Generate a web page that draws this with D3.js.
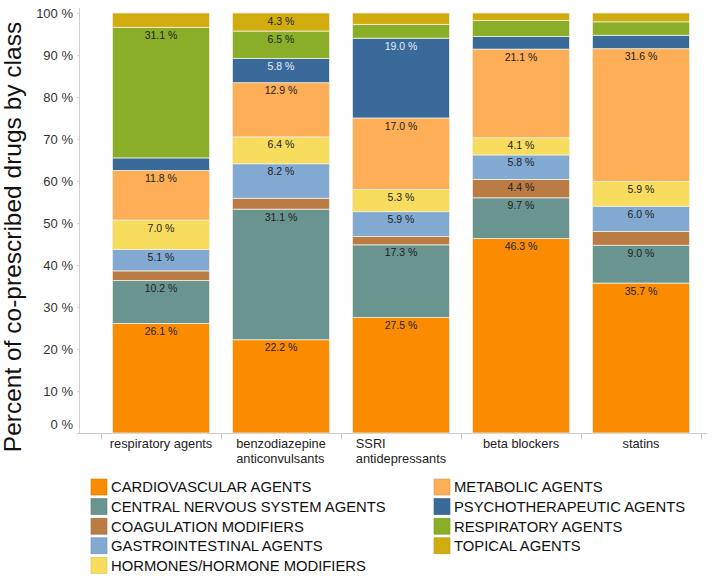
<!DOCTYPE html>
<html><head><meta charset="utf-8">
<script src="https://cdn.jsdelivr.net/npm/d3@7"></script>
<style>body{margin:0;background:#fff}svg{display:block;font-family:"Liberation Sans",Arial,sans-serif}</style>
</head><body><svg id="c" width="712" height="579"></svg>
<script>
const categories = ["respiratory agents", "benzodiazepine\nanticonvulsants", "SSRI\nantidepressants", "beta blockers", "statins"];
const classes = ["CARDIOVASCULAR AGENTS","CENTRAL NERVOUS SYSTEM AGENTS","COAGULATION MODIFIERS","GASTROINTESTINAL AGENTS","HORMONES/HORMONE MODIFIERS","METABOLIC AGENTS","PSYCHOTHERAPEUTIC AGENTS","RESPIRATORY AGENTS","TOPICAL AGENTS"];
const colors = ["#fb8b00","#699490","#ba7b45","#82a9d1","#f8dc5e","#fdae56","#3a6a99","#8aae27","#d1ac0f"];
// values per category, in class order
const respiratoryAgents = [26.1, 10.2, 2.3, 5.1, 7.0, 11.8, 3.0, 31.1, 3.4];
const benzodiazepines   = [22.2, 31.1, 2.6, 8.2, 6.4, 12.9, 5.8, 6.5, 4.3];
const ssri              = [27.5, 17.3, 2.0, 5.9, 5.3, 17.0, 19.0, 3.3, 2.7];
const betaBlockers      = [46.3, 9.7, 4.4, 5.8, 4.1, 21.1, 3.0, 3.8, 1.8];
const statins           = [35.7, 9.0, 3.3, 6.0, 5.9, 31.6, 3.2, 3.2, 2.1];
const yTicks = [0,10,20,30,40,50,60,70,80,90,100];
const yTitle = "Percent of co-prescribed drugs by class";

const seriesValues = [respiratoryAgents, benzodiazepines, ssri, betaBlockers, statins];
const table = categories.map((c,i)=>{const o={cat:c}; classes.forEach((k,j)=>o[k]=seriesValues[i][j]); return o;});
const stack = d3.stack().keys(classes)(table);

const svg = d3.select("#c");
const x = d3.scaleBand().domain(categories).range([101,701]).paddingInner(0.19).paddingOuter(0.095);
const y = d3.scaleLinear().domain([0,100]).range([433,13]);

// axis lines
svg.append("line").attr("x1",79.5).attr("x2",79.5).attr("y1",8).attr("y2",433).attr("stroke","#d0d0d0");
svg.append("line").attr("x1",79).attr("x2",707).attr("y1",433.5).attr("y2",433.5).attr("stroke","#c8c8c8");
const step = x.step();
const bounds = categories.map(c=>x(c)+x.bandwidth()/2-step/2).concat([x(categories[categories.length-1])+x.bandwidth()/2+step/2]);
svg.selectAll(".xt").data(bounds).join("line").attr("x1",d=>Math.round(d)+0.5).attr("x2",d=>Math.round(d)+0.5)
  .attr("y1",433).attr("y2",439).attr("stroke","#c8c8c8");

// y ticks
const yl = svg.append("g");
yl.selectAll("text").data(yTicks).join("text")
  .attr("x",73).attr("y",d=>y(d)+(d===0?-9:0)).attr("dy","0.35em")
  .attr("text-anchor","end").attr("font-size",13).attr("fill","#333")
  .text(d=>d+" %");
yl.selectAll("line").data(yTicks).join("line").attr("x1",77).attr("x2",80)
  .attr("y1",d=>Math.round(y(d))+0.5).attr("y2",d=>Math.round(y(d))+0.5).attr("stroke","#d0d0d0");

// bars
const g = svg.append("g");
stack.forEach((s,j)=>{
  g.selectAll(".b"+j).data(s).join("rect")
    .attr("x",d=>x(d.data.cat)).attr("width",x.bandwidth())
    .attr("y",d=>y(d[1])).attr("height",d=>y(d[0])-y(d[1]))
    .attr("fill",colors[j]).attr("stroke","#f2efe0").attr("stroke-width",0.8);
});
stack.forEach((s,j)=>{
  g.selectAll(".l"+j).data(s.filter(d=>d[1]-d[0]>=4)).join("text")
    .attr("x",d=>x(d.data.cat)+x.bandwidth()/2).attr("y",d=>y(d[1])+11.5)
    .attr("text-anchor","middle").attr("font-size",10.5)
    .attr("fill",classes[j]==="PSYCHOTHERAPEUTIC AGENTS"?"#e6edf5":"#222")
    .text(d=>(d[1]-d[0]).toFixed(1)+" %");
});

// x labels
categories.forEach(c=>{
  const lines = c.split("\n");
  const t = svg.append("text").attr("font-size",12.8).attr("fill","#222");
  lines.forEach((ln,i)=>t.append("tspan").attr("x",0).attr("y",448+i*14.5).text(ln));
  let w = 0; t.selectAll("tspan").each(function(){w=Math.max(w,this.getComputedTextLength());});
  const cx = x(c)+x.bandwidth()/2;
  if(lines.length===1){t.attr("text-anchor","middle").selectAll("tspan").attr("x",cx);}
  else t.selectAll("tspan").attr("x",cx-w/2);
});

// y title
svg.append("text").attr("transform","translate(21,237) rotate(-90)").attr("text-anchor","middle")
  .attr("font-size",24.5).attr("fill","#111").text(yTitle);

// legend
const leg = svg.append("g");
classes.forEach((k,i)=>{
  const col = i<5?0:1, row = i<5?i:i-5;
  const lx = col===0?91:434, ly = 487+row*19.6;
  leg.append("rect").attr("x",lx).attr("y",ly-8).attr("width",16).attr("height",16)
    .attr("fill",colors[i]).attr("stroke",d3.color(colors[i]).darker(0.4)).attr("stroke-width",0.6);
  leg.append("text").attr("x",lx+20).attr("y",ly).attr("dy","0.36em").attr("font-size",14.8).attr("fill","#111").text(k);
});
</script></body></html>
